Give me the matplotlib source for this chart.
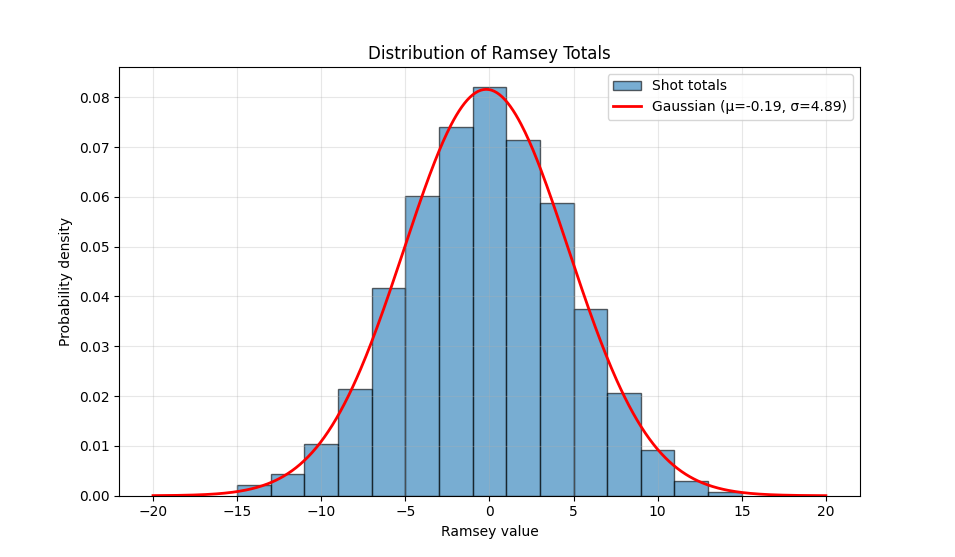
import numpy as np
import matplotlib.pyplot as plt

# histogram of shot totals (density per bin, bins of width 2)
bin_edges = [-15, -13, -11, -9, -7, -5, -3, -1, 1, 3, 5, 7, 9, 11, 13, 15]
densities = [0.00215, 0.00436, 0.0104, 0.0214, 0.0418, 0.0602, 0.0741,
             0.0820, 0.0715, 0.0588, 0.0374, 0.0206, 0.00925, 0.0030, 0.00074]

# fitted gaussian parameters
mu = -0.19
sigma = 4.89
x_range = (-20, 20)

fig, ax = plt.subplots(figsize=(9.55, 5.57), dpi=100)

centers = [(a + b) / 2 for a, b in zip(bin_edges[:-1], bin_edges[1:])]
ax.hist(centers, bins=bin_edges, weights=densities, alpha=0.6,
        color='tab:blue', edgecolor='black', label='Shot totals')

xs = np.linspace(x_range[0], x_range[1], 500)
pdf = np.exp(-0.5 * ((xs - mu) / sigma) ** 2) / (sigma * np.sqrt(2 * np.pi))
ax.plot(xs, pdf, color='red', lw=2,
        label=f'Gaussian (μ={mu:.2f}, σ={sigma:.2f})')

ax.set_title('Distribution of Ramsey Totals')
ax.set_xlabel('Ramsey value')
ax.set_ylabel('Probability density')
ax.grid(True, alpha=0.3)
ax.legend(loc='upper right')

plt.savefig('out.png', dpi=100)
